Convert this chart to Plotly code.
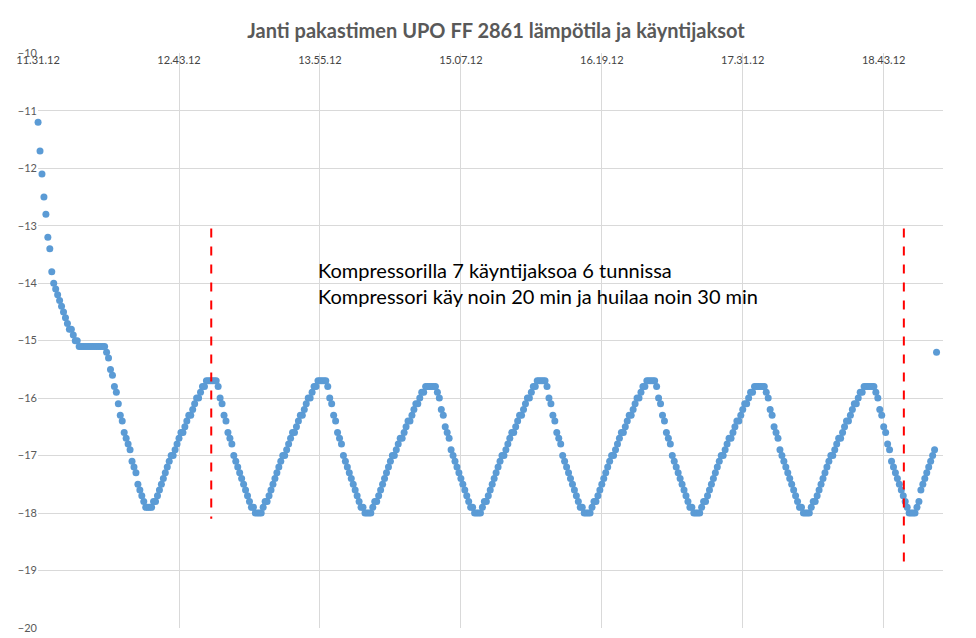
import plotly.graph_objects as go
import pandas as pd

start = "2012-01-01 11:31:12"

# one reading per minute
intro = [-11.2, -11.7, -12.1, -12.5, -12.8, -13.2, -13.4, -13.8, -14.0,
         -14.1, -14.2, -14.3, -14.4, -14.5, -14.6, -14.7, -14.8, -14.8, -14.9, -15.0, -15.0,
         -15.1, -15.1, -15.1, -15.1, -15.1, -15.1, -15.1, -15.1, -15.1, -15.1, -15.1, -15.1, -15.1, -15.1,
         -15.2, -15.3, -15.5, -15.6, -15.8, -15.9, -16.1, -16.3, -16.4, -16.6, -16.7,
         -16.8, -16.9, -17.1, -17.2, -17.3, -17.5, -17.6, -17.7, -17.8, -17.9,
         -17.9, -17.9, -17.9]
cycle1 = [-17.8, -17.8, -17.7, -17.6, -17.5, -17.4, -17.3, -17.2, -17.1, -17.0, -17.0, -16.9, -16.8,
          -16.7, -16.6, -16.6, -16.5, -16.4, -16.3, -16.3, -16.2, -16.1, -16.0, -16.0, -15.9, -15.8,
          -15.8, -15.7, -15.7, -15.7, -15.7, -15.7, -15.7,
          -15.8, -16.0, -16.1, -16.3, -16.4, -16.6, -16.7, -16.8, -17.0, -17.1, -17.2, -17.3, -17.4,
          -17.5, -17.6, -17.7, -17.8, -17.9, -17.9, -18.0, -18.0, -18.0, -18.0]
cycle2 = [-17.9, -17.8, -17.8, -17.7, -17.6, -17.5, -17.4, -17.3, -17.2, -17.1, -17.0, -17.0, -16.9,
          -16.8, -16.7, -16.6, -16.6, -16.5, -16.4, -16.3, -16.3, -16.2, -16.1, -16.0, -16.0, -15.9,
          -15.8, -15.8, -15.7, -15.7, -15.7, -15.7, -15.7,
          -15.8, -16.0, -16.1, -16.3, -16.4, -16.6, -16.7, -16.8, -17.0, -17.1, -17.2, -17.3, -17.4,
          -17.5, -17.6, -17.7, -17.8, -17.9, -17.9, -18.0, -18.0, -18.0, -18.0]
cycle3 = [-17.9, -17.8, -17.8, -17.7, -17.6, -17.5, -17.4, -17.3, -17.2, -17.1, -17.0, -17.0, -16.9,
          -16.8, -16.7, -16.7, -16.6, -16.5, -16.4, -16.4, -16.3, -16.2, -16.1, -16.1, -16.0, -15.9,
          -15.9, -15.8, -15.8, -15.8, -15.8, -15.8, -15.8,
          -15.9, -16.0, -16.2, -16.3, -16.5, -16.6, -16.7, -16.9, -17.0, -17.1, -17.2, -17.3, -17.4,
          -17.5, -17.6, -17.7, -17.8, -17.9, -17.9, -18.0, -18.0, -18.0, -18.0]
cycle4 = [-17.9, -17.8, -17.8, -17.7, -17.6, -17.5, -17.4, -17.3, -17.2, -17.1, -17.0, -17.0, -16.9,
          -16.8, -16.7, -16.6, -16.6, -16.5, -16.4, -16.3, -16.3, -16.2, -16.1, -16.0, -16.0, -15.9,
          -15.8, -15.8, -15.7, -15.7, -15.7, -15.7, -15.7,
          -15.8, -16.0, -16.1, -16.3, -16.4, -16.6, -16.7, -16.8, -17.0, -17.1, -17.2, -17.3, -17.4,
          -17.5, -17.6, -17.7, -17.8, -17.9, -17.9, -18.0, -18.0, -18.0, -18.0]
cycle5 = [-17.9, -17.8, -17.8, -17.7, -17.6, -17.5, -17.4, -17.3, -17.2, -17.1, -17.0, -17.0, -16.9,
          -16.8, -16.7, -16.6, -16.6, -16.5, -16.4, -16.3, -16.3, -16.2, -16.1, -16.0, -16.0, -15.9,
          -15.8, -15.8, -15.7, -15.7, -15.7, -15.7, -15.7,
          -15.8, -16.0, -16.1, -16.3, -16.4, -16.6, -16.7, -16.8, -17.0, -17.1, -17.2, -17.3, -17.4,
          -17.5, -17.6, -17.7, -17.8, -17.9, -17.9, -18.0, -18.0, -18.0, -18.0]
cycle6 = [-17.9, -17.8, -17.8, -17.7, -17.6, -17.5, -17.4, -17.3, -17.2, -17.1, -17.0, -17.0, -16.9,
          -16.8, -16.7, -16.7, -16.6, -16.5, -16.4, -16.4, -16.3, -16.2, -16.1, -16.1, -16.0, -15.9,
          -15.9, -15.8, -15.8, -15.8, -15.8, -15.8, -15.8,
          -15.9, -16.0, -16.2, -16.3, -16.5, -16.6, -16.7, -16.9, -17.0, -17.1, -17.2, -17.3, -17.4,
          -17.5, -17.6, -17.7, -17.8, -17.9, -17.9, -18.0, -18.0, -18.0, -18.0]
cycle7 = [-17.9, -17.8, -17.8, -17.7, -17.6, -17.5, -17.4, -17.3, -17.2, -17.1, -17.0, -17.0, -16.9,
          -16.8, -16.7, -16.7, -16.6, -16.5, -16.4, -16.4, -16.3, -16.2, -16.1, -16.1, -16.0, -15.9,
          -15.9, -15.8, -15.8, -15.8, -15.8, -15.8, -15.8,
          -15.9, -16.0, -16.2, -16.3, -16.5, -16.6, -16.8, -16.9, -17.1, -17.2, -17.3, -17.4, -17.5,
          -17.6, -17.7, -17.8, -17.9, -18.0, -18.0, -18.0, -18.0]
tail = [-17.9, -17.8, -17.6, -17.5, -17.4, -17.3, -17.2, -17.1, -17.0, -16.9, -15.2]

temps = intro + cycle1 + cycle2 + cycle3 + cycle4 + cycle5 + cycle6 + cycle7 + tail
times = pd.date_range(start, periods=len(temps), freq="1min")

marker_lines = [("2012-01-01 12:59:40", -13.05, -18.1), ("2012-01-01 18:53:30", -13.05, -18.95)]
note = "Kompressorilla 7 käyntijaksoa 6 tunnissa<br>Kompressori käy noin 20 min ja huilaa noin 30 min"

fig = go.Figure(go.Scatter(x=times, y=temps, mode="markers", cliponaxis=False,
                           marker=dict(color="#5B9BD5", size=7)))

for x, y0, y1 in marker_lines:
    fig.add_shape(type="line", x0=x, x1=x, y0=y0, y1=y1, xref="x", yref="y",
                  line=dict(color="#FF0000", width=2, dash="dash"))

fig.add_annotation(x="2012-01-01 13:53:00", y=-14.0, text=note, showarrow=False,
                   xanchor="left", yanchor="middle", align="left",
                   font=dict(size=20, color="black", family="Lato"))

fig.update_layout(
    width=976, height=638, plot_bgcolor="white", paper_bgcolor="white",
    margin=dict(l=30, r=41, t=45, b=18, autoexpand=False), showlegend=False,
    font=dict(family="Lato", color="#595959", size=11),
    title=dict(text="<b>Janti pakastimen UPO FF 2861 lämpötila ja käyntijaksot</b>",
               x=0.5, xanchor="center", y=0.975, font=dict(size=20, color="#595959")),
    xaxis=dict(side="top", ticklabelposition="inside", ticklabeloverflow="allow",
               tickformat="%H.%M.%S", automargin=False,
               tick0=start, dtick=72 * 60 * 1000,
               range=["2012-01-01 11:31:10", "2012-01-01 19:13:30"],
               showgrid=True, gridcolor="#D9D9D9", showline=False, zeroline=False,
               ticks=""),
    yaxis=dict(range=[-20, -9.995], dtick=1, showgrid=True, gridcolor="#D9D9D9",
               automargin=False, ticklabeloverflow="allow",
               zeroline=False, showline=False, ticks="", ticklabelstandoff=0),
)

fig.write_html("out.html")
